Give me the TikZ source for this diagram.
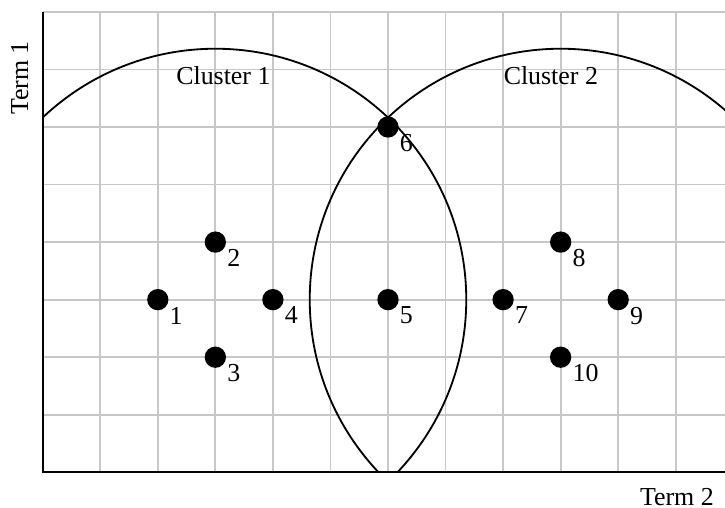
\documentclass[tikz,border=0pt]{standalone}
\usepackage{fontspec}
\setmainfont{Liberation Serif}
\begin{document}
\begin{tikzpicture}[x=1cm,y=1cm,
  gridline/.style={draw=black!22, line width=0.9pt},
  axisline/.style={draw=black, line width=1.1pt},
  clusterline/.style={draw=black, line width=0.9pt},
  dot/.style={circle, fill=black, inner sep=0pt, minimum size=0.37cm},
  lbl/.style={anchor=north west, inner sep=0pt, font=\fontsize{12.8}{14}\selectfont},
  txt/.style={inner sep=0pt, font=\fontsize{12.8}{14}\selectfont}]
\useasboundingbox (-0.742,-0.620) rectangle (11.856,8.207);
% grid
\foreach \x in {1,...,11} \draw[gridline] (\x,0) -- (\x,8);
\foreach \y in {1,...,8} \draw[gridline] (0,\y) -- (11.856,\y);
% clusters
\begin{scope}
\clip (0,0) rectangle (11.856,8);
\draw[clusterline] (3,3) circle (4.36);
\draw[clusterline] (9,3) circle (4.36);
\end{scope}
% axes
\coordinate (o) at (0,0);
\coordinate (ytop) at (0,8);
\coordinate (xend) at (11.856,0);
\draw[axisline] (ytop) -- (o) -- (xend);
% points
\foreach \n/\x/\y in {1/2/3, 2/3/4, 3/3/2, 4/4/3, 5/6/3, 6/6/6, 7/8/3, 8/9/4, 9/10/3, 10/9/2} {
  \node[dot] (p\n) at (\x,\y) {};
  \node[lbl] (l\n) at ([xshift=0.2cm,yshift=-0.12cm]p\n.center) {\n};
}
% labels
\node[txt] (c1) at (3.14,6.9) {Cluster 1};
\node[txt] (c2) at (8.83,6.9) {Cluster 2};
\node[txt, rotate=90] (t1) at (-0.40,6.85) {Term 1};
\node[txt] (t2) at (11.02,-0.43) {Term 2};
\end{tikzpicture}
\end{document}
